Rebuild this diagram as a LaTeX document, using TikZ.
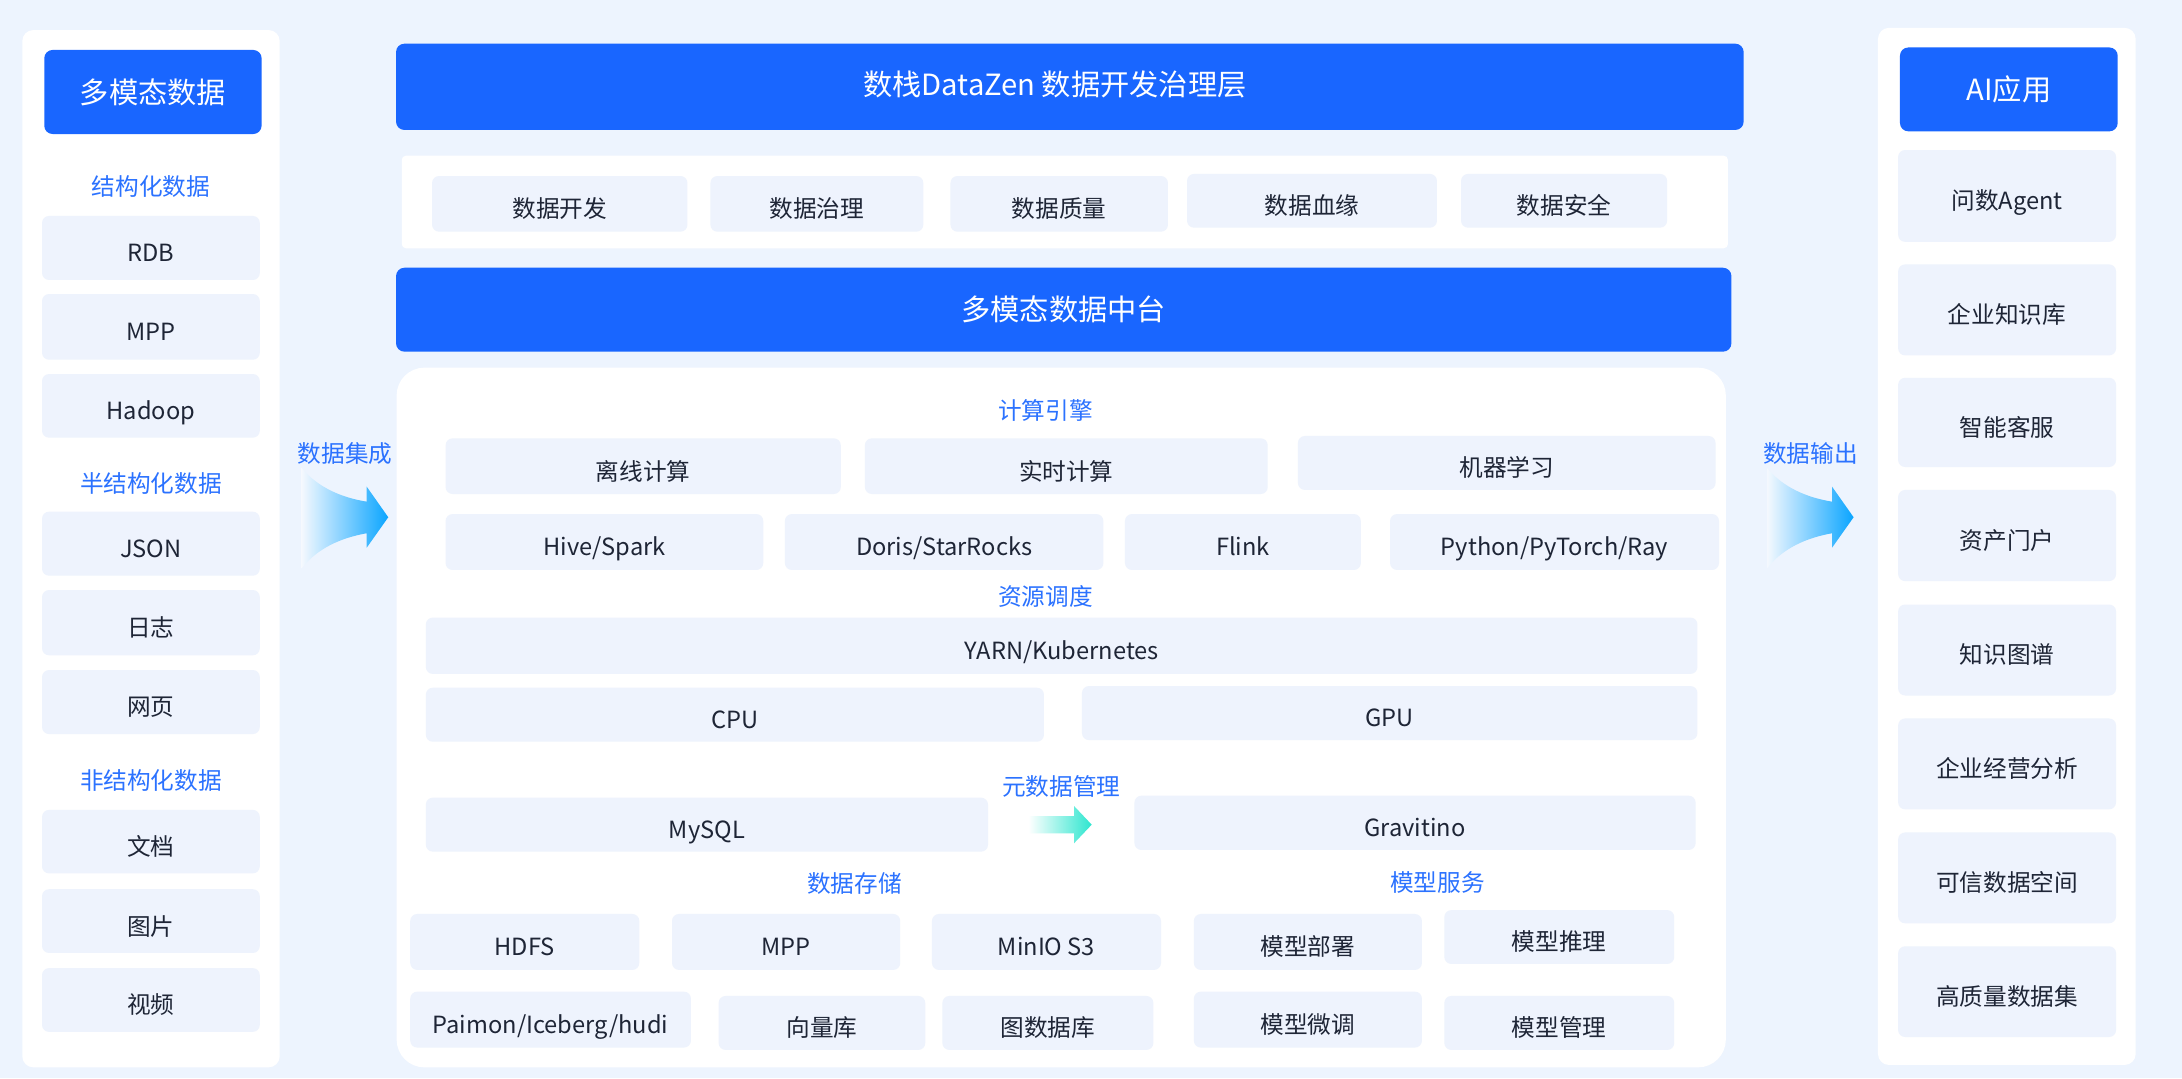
\documentclass[tikz,border=0pt]{standalone}
\usepackage{fontspec}
\setmainfont{Noto Sans CJK SC}
\usepackage{tikz}
\usetikzlibrary{shadings}
\usetikzlibrary{calc}
\definecolor{pagebg}{HTML}{EDF4FE}
\definecolor{headblue}{HTML}{1966FF}
\definecolor{tagblue}{HTML}{2B72FF}
\definecolor{cellbg}{HTML}{EEF3FD}
\definecolor{inktext}{HTML}{1E2536}
\definecolor{flowcyan}{HTML}{0AA5FF}
\definecolor{flowteal}{HTML}{2DE6CF}
\tikzstyle{panel}=[fill=white,rounded corners=8pt]
\tikzstyle{header}=[fill=headblue,rounded corners=6pt,text=white,inner sep=0pt,font=\fontsize{21}{24}\selectfont,text height=18.5pt,text depth=2.5pt]
\tikzstyle{cell}=[fill=cellbg,rounded corners=5pt,text=inktext,inner sep=0pt,font=\fontsize{17}{20}\selectfont,text height=22pt,text depth=2pt]
\tikzstyle{tag}=[text=tagblue,inner sep=0pt,font=\fontsize{17}{20}\selectfont,text height=15pt,text depth=2pt]
\tikzstyle{flow} = [left color=pagebg!60!white,right color=flowcyan]

\begin{document}
\begin{tikzpicture}[x=1pt,y=-1pt]

    \fill[pagebg] (0,0) rectangle (1568,775);
    \useasboundingbox (0,0) rectangle (1568,775);

    % source side
    \fill[panel] (16,21.6) rectangle (201,767);
    \node[header,minimum width=156.2pt,minimum height=60.4pt] (src) at (109.9,66.1) {多模态数据};
    \foreach \y/\name/\txt in {134/structured/结构化数据, 347.3/semistructured/半结构化数据, 561/unstructured/非结构化数据}
        \node[tag] (\name) at (108.5,\y) {\txt};
    \foreach \ya/\yb/\name/\txt in {155.2/201.2/rdb/RDB, 211.3/258.5/mppsrc/MPP, 268.8/314.5/hadoop/Hadoop,
            367.7/413.7/json/JSON, 424/470.9/logs/日志, 481.5/527.5/web/网页,
            582/627.6/docs/文档, 639/684.8/pics/图片, 695.7/741.5/video/视频}
        \node[cell,minimum width=156.5pt,minimum height={(\yb-\ya)*1pt}] (\name) at (108.45,{(\ya+\yb)/2}) {\txt};

    % governance layer
    \node[header,minimum width=968.4pt,minimum height=62pt] (govbar) at (768.8,62.4) {};
    \node[text=white,inner sep=0pt,font=\fontsize{21}{24}\selectfont,text height=18.5pt,text depth=2.5pt] (govtitle) at (758,60.5) {数栈DataZen 数据开发治理层};
    \fill[white,rounded corners=3pt] (288.7,111.9) rectangle (1241.7,178.4);
    \foreach \xa/\ya/\xb/\yb/\name/\txt in {310.5/126.5/494/166.5/dev/数据开发, 510.5/126.5/663.5/166.5/gov/数据治理,
            683/126.5/839.3/166.5/quality/数据质量, 853/125/1032.6/163.6/lineage/数据血缘, 1049.9/125/1198/163.6/security/数据安全}
        \node[cell,minimum width={(\xb-\xa)*1pt},minimum height={(\yb-\ya)*1pt}] (\name) at ({(\xa+\xb)/2},{(\ya+\yb)/2}) {\txt};

    % data platform
    \node[header,minimum width=959.6pt,minimum height=60.3pt] (platform) at (764.4,222.55) {多模态数据中台};
    \fill[white,rounded corners=20pt] (285,264.2) rectangle (1240.2,767);
    \foreach \x/\y/\name/\txt in {751.4/294.6/compute/计算引擎, 751.4/428.3/schedule/资源调度, 762.6/564.8/meta/元数据管理,
            614.1/635.2/storage/数据存储, 1033/634/modelsvc/模型服务}
        \node[tag] (\name) at (\x,\y) {\txt};
    \foreach \xa/\ya/\xb/\yb/\name/\txt in {
            320.2/315/604.2/355/offline/离线计算, 621.5/315/911/355/realtime/实时计算, 932.7/313.3/1232.8/352.1/ml/机器学习,
            320.2/369.4/548.5/409.6/hive/{Hive/Spark}, 564/369.4/792.9/409.6/doris/{Doris/StarRocks},
            808.4/369.4/977.9/409.6/flink/Flink, 998.9/369.4/1235.3/409.6/python/{Python/PyTorch/Ray},
            306/443.8/1219.8/484.3/yarn/{YARN/Kubernetes},
            306/494.2/750.2/533/cpu/CPU, 777.5/493/1219.8/531.8/gpu/GPU,
            306/573.2/710/612/mysql/MySQL, 815.2/571.8/1218.5/610.8/gravitino/Gravitino,
            294.8/656.8/459.4/697/hdfs/HDFS, 482.9/656.8/646.9/697/mpp/MPP, 669.7/656.8/834.3/697/minio/MinIO S3,
            857.9/656.8/1021.8/697/deploy/模型部署, 1037.9/654/1203.1/692.7/infer/模型推理,
            294.8/712.6/496.5/752.8/lake/{Paimon/Iceberg/hudi}, 516.4/715.7/664.9/754.5/vector/向量库,
            677.2/715.7/828.8/754.5/graphdb/图数据库,
            857.9/712.6/1021.8/752.8/finetune/模型微调, 1037.9/715.7/1203.1/754.5/modelmgmt/模型管理}
        \node[cell,minimum width={(\xb-\xa)*1pt},minimum height={(\yb-\ya)*1pt}] (\name) at ({(\xa+\xb)/2},{(\ya+\yb)/2}) {\txt};

    % metadata arrow
    \coordinate (metatail) at (739,592.6);
    \coordinate (metahead) at (784.5,592.6);
    \shade[left color=white,right color=flowteal] (metatail) ++(0,-6.2) -- ++(32.8,0) -- ++(0,-7.2)
        -- (metahead) -- ++(-12.7,13.4) -- ++(0,-7.2) -- ++(-32.8,0) -- cycle;

    % in / out arrows
    \foreach \dx/\name/\txt in {0/ingest/数据集成, 1053/output/数据输出} {
        \node[tag] (\name) at (248+\dx,326) {\txt};
        \shade[flow] (216.8+\dx,336.3) .. controls (228+\dx,350) and (245+\dx,357.5) .. (263.5+\dx,360.5)
            -- (263.5+\dx,349.7) -- (279+\dx,371.7) -- (263.5+\dx,393.6) -- (263.5+\dx,383.2)
            .. controls (245+\dx,386.5) and (228+\dx,394) .. (216.8+\dx,408.4) -- cycle;
    }

    % application side
    \fill[panel] (1349.5,20) rectangle (1534.7,765.3);
    \node[header,minimum width=156.5pt,minimum height=60.3pt] (apps) at (1443.55,64.25) {AI应用};
    \foreach \ya/\yb/\name/\txt in {107.8/173.8/agent/问数Agent, 190/255.4/kb/企业知识库, 271.5/335.6/service/智能客服,
            352.1/417.6/portal/资产门户, 434.4/499.8/kg/知识图谱, 516.3/581.6/bizana/企业经营分析,
            598.2/663.5/trusted/可信数据空间, 680/745.2/dataset/高质量数据集}
        \node[cell,minimum width=156.6pt,minimum height={(\yb-\ya)*1pt}] (\name) at (1442.3,{(\ya+\yb)/2}) {\txt};

\end{tikzpicture}
\end{document}
